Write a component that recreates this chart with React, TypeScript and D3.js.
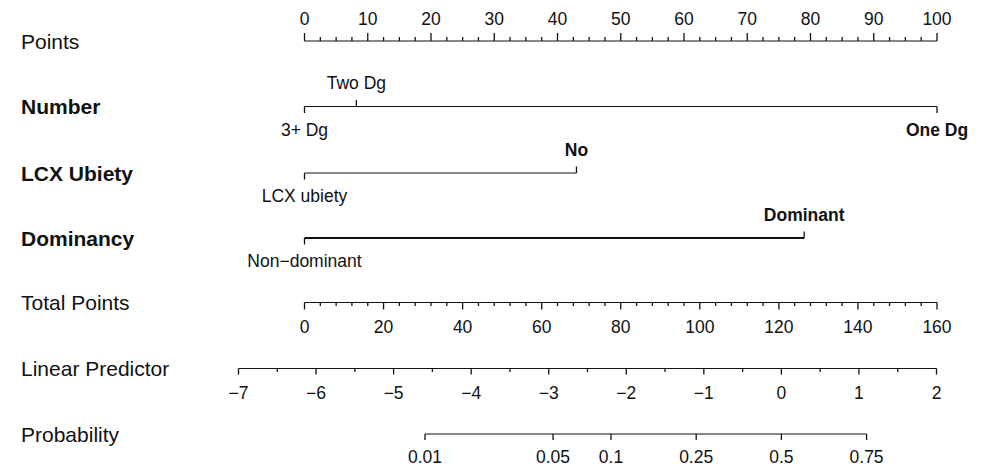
import * as d3 from "d3";
import React from "react";

// nomogram data
const pointTicks = [0, 10, 20, 30, 40, 50, 60, 70, 80, 90, 100];
const totalTicks = [0, 20, 40, 60, 80, 100, 120, 140, 160];
const lpTicks = [-7, -6, -5, -4, -3, -2, -1, 0, 1, 2];
const probTicks = [0.01, 0.05, 0.1, 0.25, 0.5, 0.75];
const probLabels = ["0.01", "0.05", "0.1", "0.25", "0.5", "0.75"];

const numberLevels = ["3+ Dg", "Two Dg", "One Dg"];
const numberPoints = [0, 8.2, 100];
const numberAbove = [false, true, false];

const lcxLevels = ["LCX ubiety", "No"];
const lcxPoints = [0, 43];
const lcxAbove = [false, true];

const domLevels = ["Non\u2212dominant", "Dominant"];
const domPoints = [0, 79];
const domAbove = [false, true];

const W = 988;
const H = 468;
const FONT = "'Liberation Sans', Arial, Helvetica, sans-serif";
const LABEL_SIZE = 21;
const TICK_SIZE = 17.5;

const xPts = d3.scaleLinear().domain([0, 100]).range([304.5, 937]);
const xTot = d3.scaleLinear().domain([0, 160]).range([304.5, 937]);
const xLp = d3.scaleLinear().domain([-7, 2]).range([238.5, 936.5]);
const logit = (p: number) => Math.log(p / (1 - p));

const fmtMinus = (v: number) => (v < 0 ? "\u2212" + Math.abs(v) : String(v));

const RowLabel: React.FC<{ y: number; text: string; bold?: boolean }> = ({ y, text, bold }) => (
	<text
		x={21}
		y={y}
		dy="0.36em"
		fontSize={LABEL_SIZE}
		fontWeight={bold ? "bold" : "normal"}>
		{text}
	</text>
);

const Axis: React.FC<{
	y: number;
	scale: (v: number) => number;
	domain: [number, number];
	major: number[];
	labels: string[];
	minor: number[];
	up?: boolean;
	majorLen: number;
	minorLen: number;
	labelDy: number;
}> = ({ y, scale, domain, major, labels, minor, up, majorLen, minorLen, labelDy }) => {
	const dir = up ? -1 : 1;
	return (
		<g>
			<line x1={scale(domain[0])} x2={scale(domain[1])} y1={y} y2={y} stroke="#111" strokeWidth={1.1} />
			{minor.map((v, i) => (
				<line key={"m" + i} x1={scale(v)} x2={scale(v)} y1={y} y2={y + dir * minorLen} stroke="#111" strokeWidth={1.3} />
			))}
			{major.map((v, i) => (
				<g key={i}>
					<line x1={scale(v)} x2={scale(v)} y1={y} y2={y + dir * majorLen} stroke="#111" strokeWidth={1.3} />
					<text x={scale(v)} y={y + labelDy} textAnchor="middle" fontSize={TICK_SIZE}>
						{labels[i]}
					</text>
				</g>
			))}
		</g>
	);
};

const VarRow: React.FC<{
	y: number;
	levels: string[];
	points: number[];
	above: boolean[];
	width?: number;
}> = ({ y, levels, points, above, width = 1.1 }) => {
	const top = d3.max(points) || 0;
	return (
		<g>
			<line
				x1={xPts(d3.min(points) || 0)}
				x2={xPts(top)}
				y1={y}
				y2={y}
				stroke="#111"
				strokeWidth={width}
			/>
			{points.map((p, i) => (
				<g key={i}>
					<line
						x1={xPts(p)}
						x2={xPts(p)}
						y1={y}
						y2={y + (above[i] ? -6.5 : 6.5)}
						stroke="#111"
						strokeWidth={1.3}
					/>
					<text
						x={xPts(p)}
						y={y + (above[i] ? -17.5 : 29)}
						textAnchor="middle"
						fontSize={TICK_SIZE}
						fontWeight={p === top ? "bold" : "normal"}>
						{levels[i]}
					</text>
				</g>
			))}
		</g>
	);
};

export default function App() {
	const yPts = 41;
	const yNum = 106.5;
	const yLcx = 173;
	const yDom = 238;
	const yTot = 302.5;
	const yLp = 368.5;
	const yProb = 434;

	return (
		<div style={{ position: "absolute", left: 0, top: 0 }}>
			<svg width={W} height={H} style={{ display: "block", background: "#fff" }} fontFamily={FONT} fill="#111">
				<RowLabel y={yPts} text="Points" />
				<Axis
					y={yPts}
					scale={xPts}
					domain={[0, 100]}
					major={pointTicks}
					labels={pointTicks.map(String)}
					minor={d3.range(0, 100.1, 2.5).filter((v) => v % 10 !== 0)}
					up
					majorLen={8}
					minorLen={4}
					labelDy={-16}
				/>

				<RowLabel y={yNum} text="Number" bold />
				<VarRow y={yNum} levels={numberLevels} points={numberPoints} above={numberAbove} />

				<RowLabel y={yLcx} text="LCX Ubiety" bold />
				<VarRow y={yLcx} levels={lcxLevels} points={lcxPoints} above={lcxAbove} />

				<RowLabel y={yDom} text="Dominancy" bold />
				<VarRow y={yDom} levels={domLevels} points={domPoints} above={domAbove} width={2.2} />

				<RowLabel y={yTot} text="Total Points" />
				<Axis
					y={yTot}
					scale={xTot}
					domain={[0, 160]}
					major={totalTicks}
					labels={totalTicks.map(String)}
					minor={d3.range(0, 160.1, 4).filter((v) => v % 20 !== 0)}
					majorLen={7}
					minorLen={3.5}
					labelDy={30.5}
				/>

				<RowLabel y={yLp} text="Linear Predictor" />
				<Axis
					y={yLp}
					scale={xLp}
					domain={[-7, 2]}
					major={lpTicks}
					labels={lpTicks.map(fmtMinus)}
					minor={d3.range(-6.5, 2, 1)}
					majorLen={6}
					minorLen={3.5}
					labelDy={30}
				/>

				<RowLabel y={yProb} text="Probability" />
				<Axis
					y={yProb}
					scale={(p: number) => xLp(logit(p))}
					domain={[0.01, 0.75]}
					major={probTicks}
					labels={probLabels}
					minor={[]}
					majorLen={6}
					minorLen={0}
					labelDy={29}
				/>
			</svg>
		</div>
	);
}
